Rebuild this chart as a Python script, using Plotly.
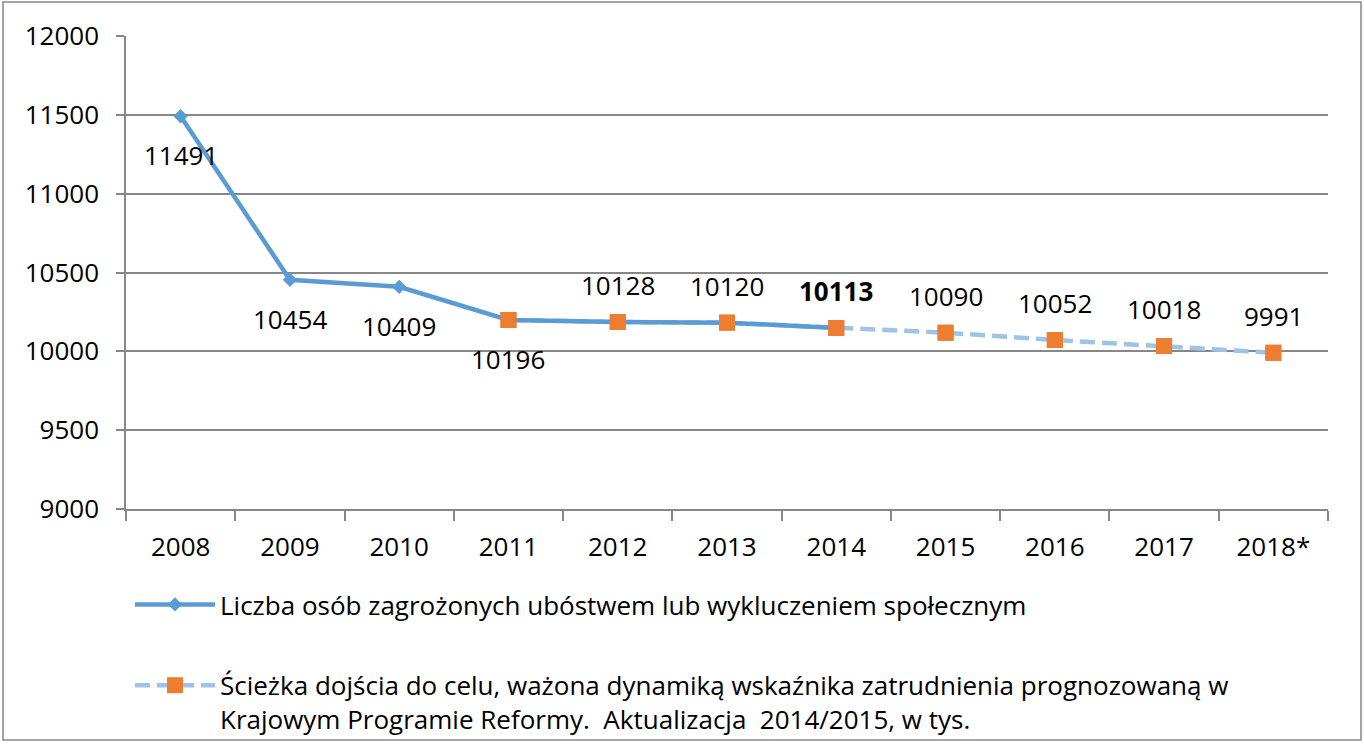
import plotly.graph_objects as go

years = ["2008", "2009", "2010", "2011", "2012", "2013", "2014", "2015", "2016", "2017", "2018*"]

# Series 1: people at risk of poverty or social exclusion (2008-2014), plotted positions
risk_years = years[:7]
risk_values = [11491, 10454, 10409, 10199, 10186, 10182, 10148]
risk_labels = ["11491", "10454", "10409", "10196", None, None, None]

# Series 2: path to the target (2011-2018*), plotted positions
path_years = years[3:]
path_values = [10199, 10186, 10182, 10148, 10118, 10072, 10034, 9991]
path_labels = [None, "10128", "10120", "10113", "10090", "10052", "10018", "9991"]

y_ticks = [9000, 9500, 10000, 10500, 11000, 11500, 12000]

name_risk = "Liczba osób zagrożonych ubóstwem lub wykluczeniem społecznym"
name_path = ("Ścieżka dojścia do celu, ważona dynamiką wskaźnika zatrudnienia prognozowaną w<br>"
             "Krajowym Programie Reformy.  Aktualizacja  2014/2015, w tys.")

FONT = "Open Sans"
FS = 26
GRID = "#878787"
BLUE = "#5B9BD5"
LIGHT = "#9DC3E6"
ORANGE = "#ED7D31"

fig = go.Figure()

fig.add_trace(go.Scatter(
    x=path_years, y=path_values, mode="lines+markers", name=name_path,
    line=dict(color=LIGHT, width=4.5, dash="15px,7px"),
    marker=dict(symbol="square", color=ORANGE, size=16),
    legendrank=2, legendgroup="b", hoverinfo="skip"))

fig.add_trace(go.Scatter(
    x=risk_years, y=risk_values, mode="lines+markers", name=name_risk,
    line=dict(color=BLUE, width=4.5),
    marker=dict(symbol="diamond", color=BLUE, size=11),
    legendrank=1, legendgroup="a", hoverinfo="skip"))

fig.add_trace(go.Scatter(
    x=path_years, y=path_values, mode="markers", showlegend=False,
    marker=dict(symbol="square", color=ORANGE, size=16), hoverinfo="skip"))

annotations = []
for xv, yv, lab in zip(risk_years, risk_values, risk_labels):
    if lab is None:
        continue
    annotations.append(dict(x=years.index(xv), y=yv, xref="x", yref="y", text=lab, showarrow=False,
                            yshift=-39, font=dict(family=FONT, size=FS, color="black")))
for xv, yv, lab in zip(path_years, path_values, path_labels):
    if lab is None:
        continue
    txt = f"<b>{lab}</b>" if xv == "2014" else lab
    annotations.append(dict(x=years.index(xv), y=yv, xref="x", yref="y", text=txt, showarrow=False,
                            yshift=37, font=dict(family=FONT, size=FS, color="black")))

fig.update_layout(
    width=1364, height=744,
    margin=dict(l=126, r=36, t=36, b=235, autoexpand=False),
    paper_bgcolor="white", plot_bgcolor="white",
    font=dict(family=FONT, size=FS, color="black"),
    annotations=annotations,
    showlegend=True,
    legend=dict(x=4 / 1202, xanchor="left", y=1 - 581 / 744, yanchor="top", yref="container",
                orientation="v", traceorder="grouped", tracegroupgap=44,
                itemwidth=80, valign="top",
                font=dict(family=FONT, size=FS, color="black"),
                bgcolor="rgba(0,0,0,0)"),
    shapes=[dict(type="rect", xref="paper", yref="paper",
                 x0=(3 - 126) / 1202, x1=(1361 - 126) / 1202,
                 y0=(509 - 740) / 473, y1=(509 - 2) / 473,
                 line=dict(color=GRID, width=1.5), fillcolor="rgba(0,0,0,0)", layer="below")],
)

fig.update_xaxes(type="category", categoryorder="array", categoryarray=years,
                 range=[-0.5, len(years) - 0.5], autorange=False,
                 showline=True, linecolor=GRID, linewidth=1.5,
                 ticks="outside", tickson="boundaries", ticklen=10, tickcolor=GRID, tickwidth=1.5,
                 showgrid=False, ticklabelstandoff=14, tickangle=0,
                 tickfont=dict(family=FONT, size=FS, color="black"))
fig.update_yaxes(range=[9000, 12000], autorange=False, tickvals=y_ticks, tickformat="d",
                 showline=True, linecolor=GRID, linewidth=1.5,
                 ticks="outside", ticklen=8, tickcolor=GRID, tickwidth=1.5,
                 showgrid=True, gridcolor=GRID, gridwidth=1.5, zeroline=False,
                 ticklabelstandoff=12,
                 tickfont=dict(family=FONT, size=FS, color="black"))

fig.write_html("out.html", config={"displayModeBar": False},
               post_script="document.body.style.margin='0';")
